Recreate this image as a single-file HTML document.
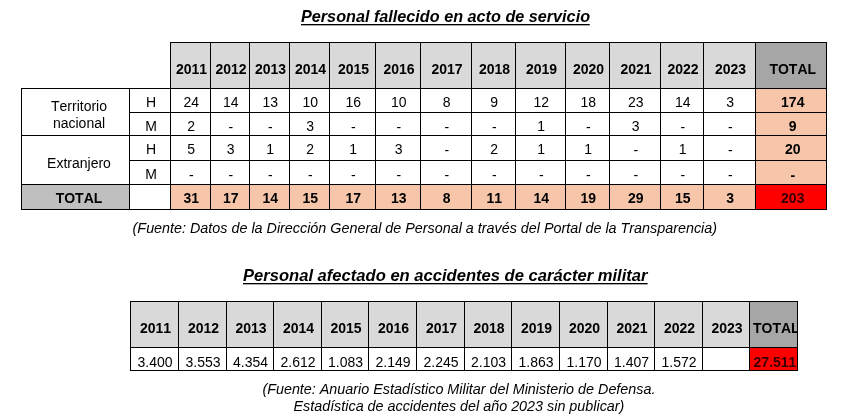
<!DOCTYPE html>
<html lang="es">
<head>
<meta charset="utf-8">
<title>Personal fallecido en acto de servicio</title>
<style>
html,body{margin:0;padding:0;background:#fff;}
body{width:842px;height:415px;position:relative;overflow:hidden;font-family:"Liberation Sans",Arial,sans-serif;color:#000;font-kerning:none;}
h1{position:absolute;margin:0;white-space:nowrap;font-weight:bold;font-style:italic;text-decoration:none;font-size:17px;line-height:18px;height:18px;transform-origin:0 0;}
h1::after{content:'';position:absolute;left:0;right:0;top:16px;height:2px;background:linear-gradient(#000 0,#000 50%,#aaa 50%,#aaa 100%);}
#t1h{left:301px;top:8px;transform:scaleX(0.953);}
#t2h{left:243px;top:267px;transform:scaleX(0.975);}
p{position:absolute;margin:0;white-space:nowrap;font-style:italic;font-size:14.35px;line-height:17.1px;text-align:center;}
table{position:absolute;border-collapse:separate;border-spacing:0;table-layout:fixed;}
td,th{box-sizing:border-box;padding:0;margin:0;border:0 solid #000;border-right-width:1px;border-bottom-width:1px;text-align:center;vertical-align:middle;font-weight:normal;padding-top:3px;padding-left:1.5px;font-size:14px;line-height:15px;white-space:nowrap;overflow:hidden;}
th.y{background:#d9d9d9;font-weight:bold;font-size:14px;border-top-width:1px;padding-top:8px;padding-left:2px;}
th.t{background:#a6a6a6;font-weight:bold;font-size:14px;border-top-width:1px;padding-top:8px;padding-left:2px;}
.l{border-left-width:1px;}
.s{background:#f6c5aa;font-weight:bold;}
td.lab{padding-left:7px;}
td.hm{padding-left:2px;}

th.tc,td.tc{padding-left:3.5px;}
.r{background:#ff0000;font-weight:bold;color:#380000;}
.g{background:#bfbfbf;font-weight:bold;}
.e{border-right-width:0;}
tr.r1 td,tr.r2 td{padding-top:4px;}
tr.r1 td.lab{line-height:17px;padding-top:5px;}
tr.r3 td.lab{padding-top:7px;}
tr.r2 td.d{padding-top:6px;}
tr.r3 td.d,tr.r4 td.d{padding-top:5px;}
#t2 td{padding-top:7px;padding-left:1px;}
#t2 th.t{padding-left:3px;}
#t2 td.r{padding-left:3px;}
</style>
</head>
<body>
<h1 id="t1h">Personal fallecido en acto de servicio</h1>
<table id="t1" style="left:21px;top:42px;width:806px;">
<colgroup><col style="width:109px"><col style="width:41px"><col style="width:40px"><col style="width:39px"><col style="width:40px"><col style="width:40px"><col style="width:46px"><col style="width:45px"><col style="width:51px"><col style="width:44px"><col style="width:50px"><col style="width:44px"><col style="width:51px"><col style="width:43px"><col style="width:52px"><col style="width:71px"></colgroup>
<tr style="height:47px"><td class="e"></td><td></td><th class="y">2011</th><th class="y">2012</th><th class="y">2013</th><th class="y">2014</th><th class="y">2015</th><th class="y">2016</th><th class="y">2017</th><th class="y">2018</th><th class="y">2019</th><th class="y">2020</th><th class="y">2021</th><th class="y">2022</th><th class="y">2023</th><th class="t tc">TOTAL</th></tr>
<tr class="r1" style="height:24px"><td class="l lab" rowspan="2">Territorio<br>nacional</td><td class="hm">H</td><td>24</td><td>14</td><td>13</td><td>10</td><td>16</td><td>10</td><td>8</td><td>9</td><td>12</td><td>18</td><td>23</td><td>14</td><td>3</td><td class="s tc">174</td></tr>
<tr class="r2" style="height:23px"><td class="hm">M</td><td>2</td><td class="d">-</td><td class="d">-</td><td>3</td><td class="d">-</td><td class="d">-</td><td class="d">-</td><td class="d">-</td><td>1</td><td class="d">-</td><td>3</td><td class="d">-</td><td class="d">-</td><td class="s tc">9</td></tr>
<tr class="r3" style="height:25px"><td class="l lab" rowspan="2">Extranjero</td><td class="hm">H</td><td>5</td><td>3</td><td>1</td><td>2</td><td>1</td><td>3</td><td class="d">-</td><td>2</td><td>1</td><td>1</td><td class="d">-</td><td>1</td><td class="d">-</td><td class="s tc">20</td></tr>
<tr class="r4" style="height:24px"><td class="hm">M</td><td class="d">-</td><td class="d">-</td><td class="d">-</td><td class="d">-</td><td class="d">-</td><td class="d">-</td><td class="d">-</td><td class="d">-</td><td class="d">-</td><td class="d">-</td><td class="d">-</td><td class="d">-</td><td class="d">-</td><td class="s tc d">-</td></tr>
<tr style="height:25px"><td class="l g lab">TOTAL</td><td></td><td class="s">31</td><td class="s">17</td><td class="s">14</td><td class="s">15</td><td class="s">17</td><td class="s">13</td><td class="s">8</td><td class="s">11</td><td class="s">14</td><td class="s">19</td><td class="s">29</td><td class="s">15</td><td class="s">3</td><td class="r tc">203</td></tr>
</table>
<p id="c1" style="left:132.6px;top:220px;">(Fuente: Datos de la Dirección General de Personal a través del Portal de la Transparencia)</p>
<h1 id="t2h">Personal afectado en accidentes de carácter militar</h1>
<table id="t2" style="left:130px;top:301px;width:668px;">
<colgroup><col style="width:49px"><col style="width:48px"><col style="width:47px"><col style="width:48px"><col style="width:47px"><col style="width:48px"><col style="width:48px"><col style="width:47px"><col style="width:48px"><col style="width:48px"><col style="width:47px"><col style="width:48px"><col style="width:47px"><col style="width:48px"></colgroup>
<tr style="height:47px"><th class="y l">2011</th><th class="y">2012</th><th class="y">2013</th><th class="y">2014</th><th class="y">2015</th><th class="y">2016</th><th class="y">2017</th><th class="y">2018</th><th class="y">2019</th><th class="y">2020</th><th class="y">2021</th><th class="y">2022</th><th class="y">2023</th><th class="t">TOTAL</th></tr>
<tr style="height:23px"><td class="l">3.400</td><td>3.553</td><td>4.354</td><td>2.612</td><td>1.083</td><td>2.149</td><td>2.245</td><td>2.103</td><td>1.863</td><td>1.170</td><td>1.407</td><td>1.572</td><td></td><td class="r">27.511</td></tr>
</table>
<p id="c2" style="left:262.4px;top:381px;">(Fuente: Anuario Estadístico Militar del Ministerio de Defensa.<br>Estadística de accidentes del año 2023 sin publicar)</p>
</body>
</html>
